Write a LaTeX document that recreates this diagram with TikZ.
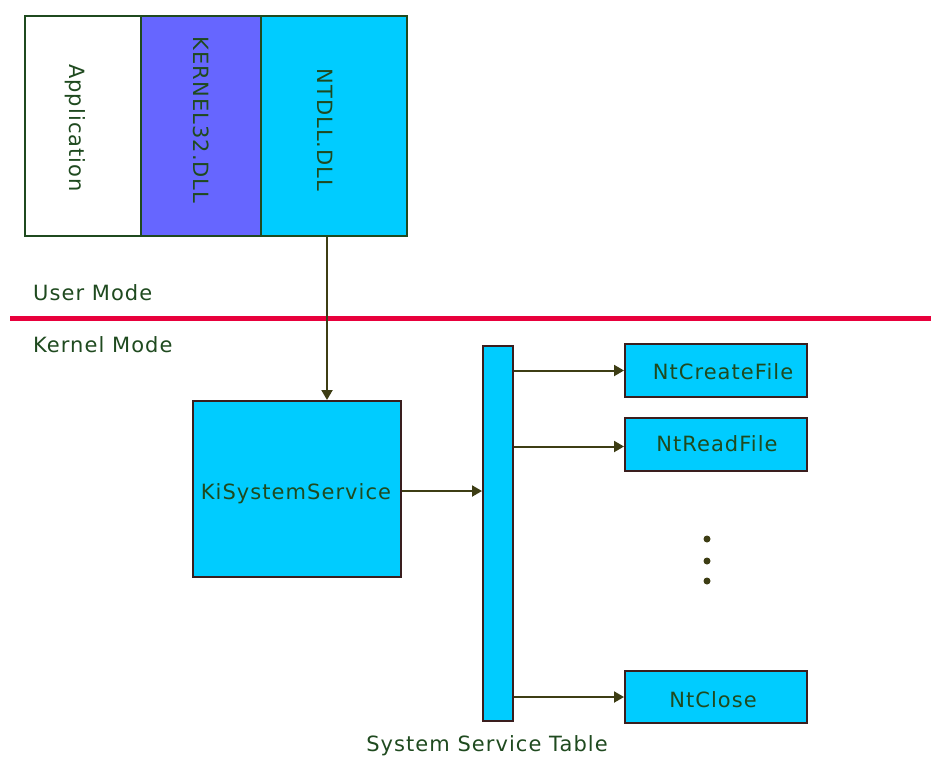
\documentclass[tikz,border=0pt]{standalone}
\usepackage{fontspec}
\setmainfont[LetterSpace=5]{DejaVu Sans}
\usetikzlibrary{arrows.meta,calc}
\definecolor{txtgreen}{HTML}{1F4A1F}
\definecolor{boxline}{HTML}{3A1E1E}
\definecolor{arrowc}{HTML}{3D3D14}
\definecolor{cyanbox}{HTML}{00CCFF}
\definecolor{bluebox}{HTML}{6666FF}
\definecolor{redline}{HTML}{E8003C}
\tikzset{
  dllbox/.style={draw=txtgreen, line width=2pt, minimum height=220pt, inner sep=0pt, anchor=north west},
  svcbox/.style={draw=boxline, fill=cyanbox, line width=2pt, inner sep=0pt, anchor=north west},
  lbl/.style={text=txtgreen, font=\fontsize{21}{24}\selectfont, inner sep=0pt},
  conn/.style={draw=arrowc, line width=2pt, -{Triangle[length=10pt,width=11pt]}}
}
\begin{document}
\begin{tikzpicture}[x=1pt,y=-1pt]
\useasboundingbox (0,0) rectangle (931,758);
% top DLL stack
\node[dllbox, fill=white, minimum width=116pt] (app) at (24,15) {};
\node[dllbox, fill=bluebox, minimum width=120pt] (k32) at (140,15) {};
\node[dllbox, fill=cyanbox, minimum width=146pt] (ntdll) at (260,15) {};
\node[lbl, rotate=-90] (apptxt) at (75,128) {Application};
\node[lbl, rotate=-90] (k32txt) at (201,120) {KERNEL32.DLL};
\node[lbl, rotate=-90] (ntdlltxt) at (325,130) {NTDLL.DLL};
% mode separator
\node[lbl, anchor=west] (um) at (33,293) {User Mode};
\node[lbl, anchor=west] (km) at (33,345) {Kernel Mode};
\coordinate (sepL) at (10,318);
\coordinate (sepR) at (931,318);
\draw[redline, line width=5pt] (sepL) -- (sepR);
% kernel side
\node[svcbox, minimum width=208pt, minimum height=176pt] (ki) at (192,400) {};
\node[lbl] (kitxt) at (296,494) {KiSystemService};
\node[svcbox, minimum width=30pt, minimum height=375pt] (sst) at (482,345) {};
\node[lbl] (ssttxt) at (487,746) {System Service Table};
\node[svcbox, minimum width=182pt, minimum height=53pt] (ncf) at (624,343) {};
\node[lbl] (ncftxt) at (723,372) {NtCreateFile};
\node[svcbox, minimum width=182pt, minimum height=53pt] (nrf) at (624,417) {};
\node[lbl] (nrftxt) at (717,444) {NtReadFile};
\node[svcbox, minimum width=182pt, minimum height=52pt] (ncl) at (624,670) {};
\node[lbl] (ncltxt) at (713,700) {NtClose};
% dots
\foreach \yy/\nm in {539/d1,561/d2,581/d3}{
  \node[circle, fill=arrowc, inner sep=0pt, minimum size=7pt] (\nm) at (707,\yy) {};
}
% connectors
\coordinate (ntout) at ($(ntdll.south)+(-7,0)$);
\draw[conn] (ntout) -- (ntout |- ki.north);
\draw[conn] ($(ki.east)+(0,2)$) -- ($(ki.east -| sst.west)+(0,2)$);
\draw[conn] (ncf.west -| sst.east) -- (ncf.west);
\draw[conn] ($(nrf.west -| sst.east)+(0,2)$) -- ($(nrf.west)+(0,2)$);
\draw[conn] (ncl.west -| sst.east) -- (ncl.west);
\end{tikzpicture}
\end{document}
